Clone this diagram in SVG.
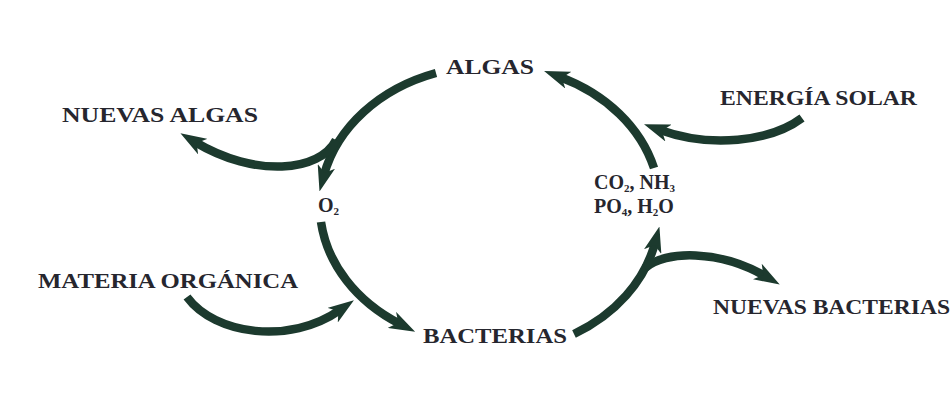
<svg xmlns="http://www.w3.org/2000/svg" width="952" height="401" viewBox="0 0 952 401">
<style>
.lbl{font-family:"Liberation Serif","Times New Roman",serif;font-weight:bold;fill:#26262e;font-size:20px}
.arc{fill:none;stroke:#1c3a2e;stroke-width:8.5;stroke-linecap:butt}
</style>
<defs>
<marker id="ah" markerUnits="userSpaceOnUse" markerWidth="26" markerHeight="18" viewBox="0 0 26 18" refX="9" refY="9" orient="auto">
<path d="M0,0 L26,9 L0,18 L7,9 z" fill="#1c3a2e"/>
</marker>
</defs>
<rect width="952" height="401" fill="#ffffff"/>
<g id="connectors">
<path class="arc" d="M436,73 A170,140 0 0 0 324,175" marker-end="url(#ah)"/>
<path class="arc" d="M336,140 C320,172 255,178 195,142" marker-end="url(#ah)"/>
<path class="arc" d="M321,222 A170,140 0 0 0 400,324" marker-end="url(#ah)"/>
<path class="arc" d="M187,297 C215,335 290,345 340,310" marker-end="url(#ah)"/>
<path class="arc" d="M574,334 A170,140 0 0 0 655,243" marker-end="url(#ah)"/>
<path class="arc" d="M645,268 C665,250 720,250 765,276" marker-end="url(#ah)"/>
<path class="arc" d="M654,168 A170,140 0 0 0 560,77" marker-end="url(#ah)"/>
<path class="arc" d="M802,118 C770,142 710,148 660,130" marker-end="url(#ah)"/>
</g>
<g id="algas"><text class="lbl" x="446" y="74" textLength="88" lengthAdjust="spacingAndGlyphs">ALGAS</text></g>
<g id="nuevas-algas"><text class="lbl" x="62" y="122" textLength="196" lengthAdjust="spacingAndGlyphs">NUEVAS ALGAS</text></g>
<g id="o2"><text class="lbl" x="318" y="212" font-size="17">O<tspan font-size="11" dy="3">2</tspan></text></g>
<g id="materia-organica"><text class="lbl" x="38" y="288" textLength="260" lengthAdjust="spacingAndGlyphs">MATERIA ORGÁNICA</text></g>
<g id="bacterias"><text class="lbl" x="423" y="343" textLength="144" lengthAdjust="spacingAndGlyphs">BACTERIAS</text></g>
<g id="nuevas-bacterias"><text class="lbl" x="713" y="314" textLength="237" lengthAdjust="spacingAndGlyphs">NUEVAS BACTERIAS</text></g>
<g id="energia-solar"><text class="lbl" x="720" y="105" textLength="197" lengthAdjust="spacingAndGlyphs">ENERGÍA SOLAR</text></g>
<g id="nutrientes">
<text class="lbl" x="594" y="189" font-size="17">CO<tspan font-size="11" dy="3">2</tspan><tspan dy="-3">, NH</tspan><tspan font-size="11" dy="3">3</tspan></text>
<text class="lbl" x="594" y="213" font-size="17">PO<tspan font-size="11" dy="3">4</tspan><tspan dy="-3">, H</tspan><tspan font-size="11" dy="3">2</tspan><tspan dy="-3">O</tspan></text>
</g>
</svg>
